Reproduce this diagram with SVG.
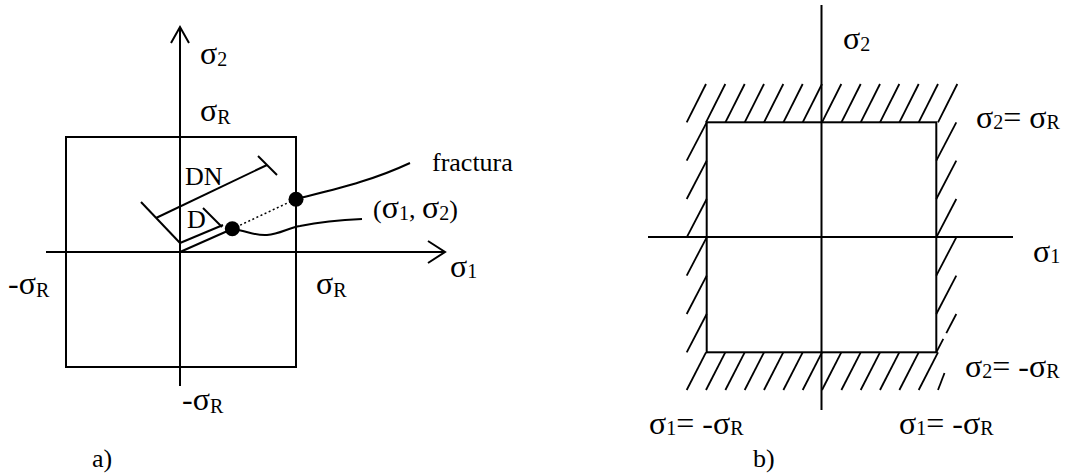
<svg xmlns="http://www.w3.org/2000/svg" width="1068" height="475" viewBox="0 0 1068 475">
<style>
.ln{stroke:#000;stroke-width:2;fill:none;stroke-linecap:butt}
.h{stroke:#000;stroke-width:1.8;fill:none}
.dot{fill:#000}
text{font-family:"Liberation Serif","Times New Roman",serif;fill:#000;font-size:26px}
.g{font-size:32px}
.sub{font-size:20px}
</style>
<rect width="1068" height="475" fill="#fff"/>
<g id="panel-a">
  <g id="a-axes">
    <line class="ln" x1="180" y1="27" x2="180" y2="386"/>
    <polyline class="ln" points="171,43 180,27 189,43"/>
    <line class="ln" x1="46" y1="252" x2="444" y2="252"/>
    <polyline class="ln" points="428,241 445,252 428,263"/>
  </g>
  <rect id="a-square" class="ln" x="66" y="137" width="230" height="230"/>
  <g id="a-dimensions">
    <line class="ln" x1="141" y1="202" x2="180" y2="243"/>
    <line class="ln" x1="156" y1="218" x2="267" y2="165"/>
    <line class="ln" x1="258" y1="156" x2="277" y2="175"/>
    <line class="ln" x1="180" y1="243" x2="223" y2="225"/>
    <line class="ln" x1="203" y1="208" x2="222" y2="227"/>
    <line class="ln" x1="180" y1="252" x2="232" y2="229"/>
    <line x1="232" y1="229" x2="296" y2="199" stroke="#000" stroke-width="1.5" stroke-dasharray="2,2.5"/>
  </g>
  <g id="a-curves">
    <path class="ln" d="M232,229 C248,231 255,236 267,235 C280,234 288,228 300,226 C320,222 340,220 362,219"/>
    <path class="ln" d="M296,199 C320,193 345,187 360,182 C380,176 395,170 410,163"/>
  </g>
  <circle id="a-point" class="dot" cx="232.3" cy="228.7" r="7.5"/>
  <circle id="a-fracture-point" class="dot" cx="296" cy="199.3" r="7.5"/>
  <g id="a-labels">
    <text x="200" y="64"><tspan class="g">σ</tspan><tspan class="sub" dy="2">2</tspan></text>
    <text x="200" y="121"><tspan class="g">σ</tspan><tspan class="sub" dy="3">R</tspan></text>
    <text x="185" y="185">DN</text>
    <text x="187" y="228">D</text>
    <text x="432" y="171">fractura</text>
    <text x="373" y="218">(<tspan class="g">σ</tspan><tspan class="sub" dy="2">1</tspan><tspan dy="-2">, </tspan><tspan class="g">σ</tspan><tspan class="sub" dy="2">2</tspan><tspan dy="-2">)</tspan></text>
    <text x="450" y="277"><tspan class="g">σ</tspan><tspan class="sub" dy="1">1</tspan></text>
    <text x="8" y="294"><tspan class="g">-σ</tspan><tspan class="sub" dy="3">R</tspan></text>
    <text x="316" y="294"><tspan class="g">σ</tspan><tspan class="sub" dy="3">R</tspan></text>
    <text x="182" y="410"><tspan class="g">-σ</tspan><tspan class="sub" dy="3">R</tspan></text>
    <text x="92" y="467">a)</text>
  </g>
</g>
<g id="panel-b">
  <g id="b-axes">
    <line class="ln" x1="821.5" y1="5" x2="821.5" y2="410"/>
    <line class="ln" x1="648" y1="237" x2="1013" y2="237"/>
  </g>
  <rect id="b-square" class="ln" x="706.7" y="122.3" width="229.6" height="230"/>
  <g id="b-hatch-top">
    <line class="h" x1="686.7" y1="122.3" x2="706" y2="84"/>
    <line class="h" x1="706" y1="122.3" x2="725.3" y2="84"/>
    <line class="h" x1="725.4" y1="122.3" x2="744.7" y2="84"/>
    <line class="h" x1="744.7" y1="122.3" x2="764" y2="84"/>
    <line class="h" x1="764" y1="122.3" x2="783.3" y2="84"/>
    <line class="h" x1="783.4" y1="122.3" x2="802.7" y2="84"/>
    <line class="h" x1="802.7" y1="122.3" x2="822" y2="84"/>
    <line class="h" x1="822" y1="122.3" x2="841.3" y2="84"/>
    <line class="h" x1="841.4" y1="122.3" x2="860.7" y2="84"/>
    <line class="h" x1="860.7" y1="122.3" x2="880" y2="84"/>
    <line class="h" x1="880" y1="122.3" x2="899.3" y2="84"/>
    <line class="h" x1="899.4" y1="122.3" x2="918.7" y2="84"/>
    <line class="h" x1="918.7" y1="122.3" x2="938" y2="84"/>
    <line class="h" x1="938" y1="122.3" x2="957.3" y2="84"/>
  </g>
  <g id="b-hatch-bottom">
    <line class="h" x1="686.7" y1="390" x2="706" y2="352.3"/>
    <line class="h" x1="706" y1="390" x2="725.3" y2="352.3"/>
    <line class="h" x1="725.4" y1="390" x2="744.7" y2="352.3"/>
    <line class="h" x1="744.7" y1="390" x2="764" y2="352.3"/>
    <line class="h" x1="764" y1="390" x2="783.3" y2="352.3"/>
    <line class="h" x1="783.4" y1="390" x2="802.7" y2="352.3"/>
    <line class="h" x1="802.7" y1="390" x2="822" y2="352.3"/>
    <line class="h" x1="822" y1="390" x2="841.3" y2="352.3"/>
    <line class="h" x1="841.4" y1="390" x2="860.7" y2="352.3"/>
    <line class="h" x1="860.7" y1="390" x2="880" y2="352.3"/>
    <line class="h" x1="880" y1="390" x2="899.3" y2="352.3"/>
    <line class="h" x1="899.4" y1="390" x2="918.7" y2="352.3"/>
    <line class="h" x1="918.7" y1="390" x2="938" y2="352.3"/>
    <line class="h" x1="938" y1="390" x2="944.5" y2="373"/>
  </g>
  <g id="b-hatch-left">
    <line class="h" x1="686.7" y1="160.6" x2="706.7" y2="122.3"/>
    <line class="h" x1="686.7" y1="199" x2="706.7" y2="160.6"/>
    <line class="h" x1="686.7" y1="237.3" x2="706.7" y2="199"/>
    <line class="h" x1="686.7" y1="275.6" x2="706.7" y2="237.3"/>
    <line class="h" x1="686.7" y1="314" x2="706.7" y2="275.6"/>
    <line class="h" x1="686.7" y1="352.3" x2="706.7" y2="314"/>
  </g>
  <g id="b-hatch-right">
    <line class="h" x1="936.3" y1="160.6" x2="956.3" y2="122.3"/>
    <line class="h" x1="936.3" y1="199" x2="956.3" y2="160.6"/>
    <line class="h" x1="936.3" y1="237.3" x2="956.3" y2="199"/>
    <line class="h" x1="936.3" y1="275.6" x2="956.3" y2="237.3"/>
    <line class="h" x1="936.3" y1="314" x2="956.3" y2="275.6"/>
    <line class="h" x1="936.3" y1="352.3" x2="943.3" y2="338.9"/>
    <line class="h" x1="946.3" y1="333.1" x2="956.3" y2="314"/>
  </g>
  <g id="b-labels">
    <text x="843" y="49"><tspan class="g">σ</tspan><tspan class="sub" dy="2">2</tspan></text>
    <text x="976" y="128"><tspan class="g">σ</tspan><tspan class="sub" dy="1">2</tspan><tspan class="g" dy="-1">= σ</tspan><tspan class="sub" dy="1">R</tspan></text>
    <text x="1033" y="262"><tspan class="g">σ</tspan><tspan class="sub" dy="1">1</tspan></text>
    <text x="965" y="377"><tspan class="g">σ</tspan><tspan class="sub" dy="1">2</tspan><tspan class="g" dy="-1">= -σ</tspan><tspan class="sub" dy="1">R</tspan></text>
    <text x="649" y="434"><tspan class="g">σ</tspan><tspan class="sub" dy="1">1</tspan><tspan class="g" dy="-1">= -σ</tspan><tspan class="sub" dy="1">R</tspan></text>
    <text x="899" y="434"><tspan class="g">σ</tspan><tspan class="sub" dy="1">1</tspan><tspan class="g" dy="-1">= -σ</tspan><tspan class="sub" dy="1">R</tspan></text>
    <text x="753" y="467">b)</text>
  </g>
</g>
</svg>
